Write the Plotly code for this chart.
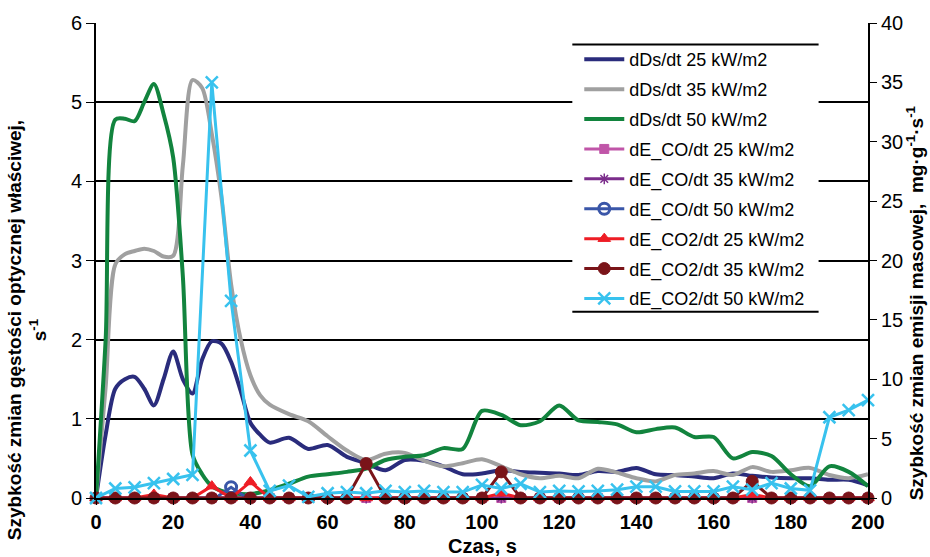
import plotly.graph_objects as go

# ---------------- data ----------------
czas_dDs = [0, 2.5, 5, 7.5, 10, 12.5, 15, 17.5, 20, 22.5, 25, 27.5, 30, 32.5, 35, 37.5, 40, 42.5, 45,
            50, 55, 60, 65, 70, 75, 80, 85, 90, 95, 100, 105, 110, 115, 120, 125, 130, 135, 140,
            145, 150, 155, 160, 165, 170, 175, 180, 185, 190, 195, 200]

dDs_25 = [0, 0.8, 1.38, 1.5, 1.53, 1.38, 1.17, 1.5, 1.85, 1.5, 1.32, 1.75, 1.98, 1.95, 1.72, 1.35, 0.95, 0.8, 0.7,
          0.76, 0.62, 0.67, 0.52, 0.44, 0.35, 0.48, 0.47, 0.4, 0.3, 0.31, 0.35, 0.33, 0.32, 0.31, 0.29, 0.34, 0.33, 0.38,
          0.3, 0.29, 0.27, 0.25, 0.31, 0.28, 0.26, 0.25, 0.25, 0.23, 0.23, 0.16]

dDs_35 = [0, 1.4, 2.95, 3.08, 3.12, 3.15, 3.12, 3.05, 3.06, 4.2, 5.28, 5.18, 4.6, 3.8, 2.7, 2.0, 1.55, 1.3, 1.18,
          1.06, 0.97, 0.78, 0.6, 0.48, 0.56, 0.57, 0.47, 0.4, 0.44, 0.49, 0.4, 0.3, 0.25, 0.28, 0.25, 0.37, 0.32, 0.25,
          0.21, 0.29, 0.31, 0.34, 0.29, 0.39, 0.33, 0.35, 0.38, 0.29, 0.25, 0.3]

dDs_50 = [0, 2.0, 4.78, 4.79, 4.76, 5.0, 5.23, 4.85, 4.3, 2.8, 0.55, 0.3, 0.15, 0.09, 0.06, 0.05, 0.05, 0.07, 0.1,
          0.18, 0.27, 0.3, 0.33, 0.37, 0.48, 0.52, 0.54, 0.63, 0.62, 1.1, 1.05, 0.92, 0.97, 1.17, 0.98, 0.96, 0.93, 0.83,
          0.87, 0.89, 0.77, 0.77, 0.5, 0.58, 0.53, 0.3, 0.15, 0.4, 0.33, 0.15]

czas_E = [0, 5, 10, 15, 20, 25, 30, 35, 40, 45, 50, 55, 60, 65, 70, 75, 80, 85, 90, 95, 100,
          105, 110, 115, 120, 125, 130, 135, 140, 145, 150, 155, 160, 165, 170, 175, 180, 185, 190, 195, 200]

dE_CO_25 = [0] * 41
dE_CO_35 = [0] * 41
dE_CO_50 = [-0.2, -0.2, -0.2, -0.2, -0.2, -0.2, -0.2, 0.9, -0.2, -0.2, -0.2, -0.2, -0.2, -0.2, -0.2, -0.2, -0.2,
            -0.2, -0.2, -0.2, -0.2, -0.2, -0.2, -0.2, -0.2, -0.2, -0.2, -0.2, -0.2, -0.2, -0.2, -0.2, -0.2, -0.2,
            -0.2, -0.2, -0.2, -0.2, -0.2, -0.2, -0.2]
dE_CO2_25 = [0, 0, 0, 0.3, 0, 0, 1.0, 0, 1.35, 0, 0, 0, 0, 0, 0, 0, 0, 0, 0, 0, 0,
             0.4, 0, 0, 0, 0, 0, 0, 0, 0, 0, 0, 0, 0, 0.3, 0, 0, 0, 0, 0, 0]
dE_CO2_35 = [0, 0, 0, 0, 0, 0, 0, 0, 0, 0, 0, 0, 0, 0, 2.9, 0, 0, 0, 0, 0, 0,
             2.2, 0, 0, 0, 0, 0, 0, 0, 0, 0, 0, 0, 0, 1.4, 0, 0, 0, 0, 0, 0]
dE_CO2_50 = [0, 0.8, 0.9, 1.25, 1.6, 1.95, 35.0, 16.6, 4.0, 0.6, 1.05, 0.1, 0.4, 0.5, 0.4, 0.6, 0.5, 0.6, 0.5, 0.5, 1.1,
             0.8, 1.2, 0.5, 0.6, 0.55, 0.6, 0.7, 0.95, 0.95, 0.55, 0.55, 0.55, 0.95, 0.7, 1.25, 0.8, 0.65, 6.8, 7.4, 8.25]

x_ticks = [0, 20, 40, 60, 80, 100, 120, 140, 160, 180, 200]
y_ticks = [0, 1, 2, 3, 4, 5, 6]
y2_ticks = [0, 5, 10, 15, 20, 25, 30, 35, 40]

FONT = "Liberation Sans, Arial, sans-serif"

fig = go.Figure()

dDs_series = [
    ("dDs/dt 25 kW/m2", dDs_25, "#2A2C7C"),
    ("dDs/dt 35 kW/m2", dDs_35, "#A0A0A0"),
    ("dDs/dt 50 kW/m2", dDs_50, "#12843E"),
]
for name, vals, col in dDs_series:
    fig.add_trace(go.Scatter(
        x=czas_dDs, y=vals, name=name, mode="lines",
        line=dict(color=col, width=4, shape="spline", smoothing=0.8),
        legendgroup=name, yaxis="y",
    ))

dE_series = [
    ("dE_CO/dt 25 kW/m2", dE_CO_25, "#C055A8", dict(symbol="square", size=9, lw=1)),
    ("dE_CO/dt 35 kW/m2", dE_CO_35, "#7B2D8B", dict(symbol="asterisk-open", size=9, lw=1.5)),
    ("dE_CO/dt 50 kW/m2", dE_CO_50, "#3A56A8", dict(symbol="circle-open", size=11, lw=3)),
    ("dE_CO2/dt 25 kW/m2", dE_CO2_25, "#EE1D25", dict(symbol="triangle-up", size=11, lw=1)),
    ("dE_CO2/dt 35 kW/m2", dE_CO2_35, "#7A1419", dict(symbol="circle", size=12, lw=1)),
    ("dE_CO2/dt 50 kW/m2", dE_CO2_50, "#38C2EE", dict(symbol="x-thin-open", size=12, lw=2.5)),
]
for name, vals, col, mk in dE_series:
    marker = dict(color=col, symbol=mk["symbol"], size=mk["size"], line=dict(color=col, width=mk["lw"]))
    fig.add_trace(go.Scatter(
        x=czas_E, y=vals, name=name, mode="lines+markers",
        line=dict(color=col, width=3), marker=marker,
        legendgroup=name, yaxis="y2", cliponaxis=False,
    ))

fig.update_layout(
    width=930, height=557,
    margin=dict(l=96, r=62, t=23, b=59),
    paper_bgcolor="white", plot_bgcolor="white",
    font=dict(family=FONT, color="black"),
    showlegend=True,
    legend=dict(
        x=0.626, y=0.962, xanchor="left", yanchor="top",
        bgcolor="rgba(0,0,0,0)", borderwidth=0,
        font=dict(family=FONT, size=18, color="black"),
        tracegroupgap=3.5, traceorder="grouped", itemwidth=40,
    ),
    xaxis=dict(
        range=[0, 200], tickvals=x_ticks, showgrid=False, zeroline=False,
        showline=True, linecolor="black", linewidth=2,
        ticks="outside", ticklen=5, tickcolor="black",
        tickfont=dict(family=FONT, size=20, weight="bold"),
    ),
    yaxis=dict(
        range=[0, 6], tickvals=y_ticks, showgrid=True, gridcolor="black", gridwidth=2,
        zeroline=False, showline=True, linecolor="black", linewidth=2,
        ticks="outside", ticklen=8, tickcolor="black",
        tickfont=dict(family=FONT, size=20),
    ),
    yaxis2=dict(
        range=[0, 40], tickvals=y2_ticks, overlaying="y", side="right",
        showgrid=False, zeroline=False, showline=True, linecolor="black", linewidth=2,
        ticks="outside", ticklen=7, tickcolor="black",
        tickfont=dict(family=FONT, size=20),
    ),
    shapes=[
        dict(type="rect", xref="paper", yref="paper", x0=0.617, x1=0.936, y0=0.392, y1=0.955,
             fillcolor="white", line=dict(width=0), layer="above"),
        dict(type="line", xref="paper", yref="paper", x0=0.617, x1=0.936, y0=0.955, y1=0.955,
             line=dict(color="black", width=2), layer="above"),
        dict(type="line", xref="paper", yref="paper", x0=0.617, x1=0.936, y0=0.392, y1=0.392,
             line=dict(color="black", width=2), layer="above"),
    ],
    annotations=[
        dict(text="<b>Szybkość zmian gęstości optycznej właściwej,</b><br><b>s<sup>-1</sup></b>",
             xref="paper", yref="paper", x=-0.089, y=0.354, textangle=-90, showarrow=False,
             font=dict(family=FONT, size=19, color="black"), xanchor="center", yanchor="middle"),
        dict(text="<b>Szybkość zmian emisji masowej,  mg·g<sup>-1</sup>·s<sup>-1</sup></b>",
             xref="paper", yref="paper", x=1.061, y=0.41, textangle=-90, showarrow=False,
             font=dict(family=FONT, size=19, color="black"), xanchor="center", yanchor="middle"),
        dict(text="<b>Czas, s</b>", xref="paper", yref="paper", x=0.501, y=-0.101,
             showarrow=False, font=dict(family=FONT, size=20, color="black"),
             xanchor="center", yanchor="middle"),
    ],
)

fig.write_html("out.html", config={"displayModeBar": False},
               post_script="document.body.style.margin='0';document.body.style.padding='0';")
